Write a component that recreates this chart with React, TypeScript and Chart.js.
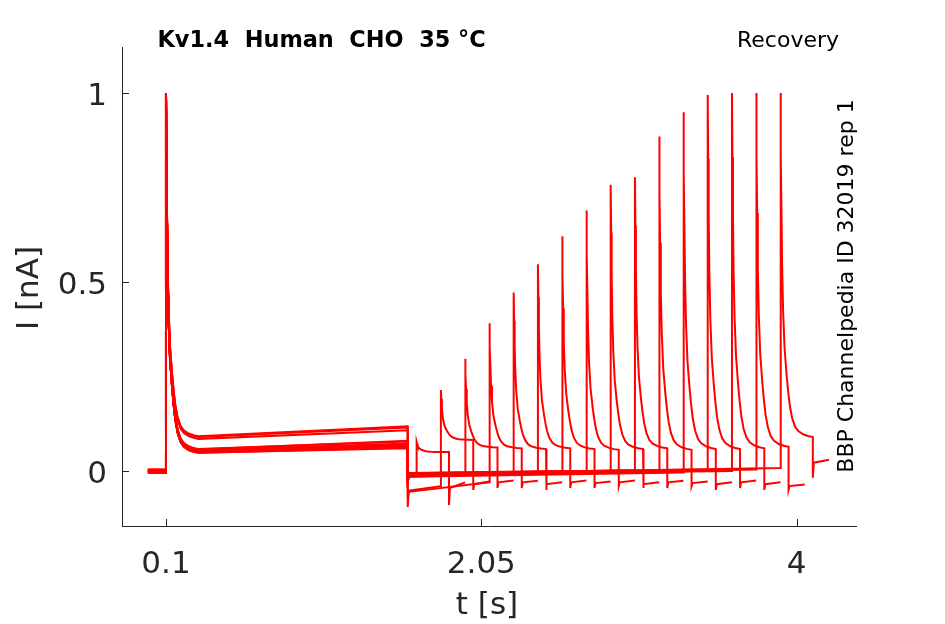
import { useEffect, useRef } from 'react';
import { Chart, registerables } from 'chart.js';

Chart.register(...registerables);

// axis ranges and ticks
const xMin = -0.172;
const xMax = 4.367;
const yMin = -0.1455;
const yMax = 1.1217;
const xTicks = [0.1, 2.05, 4];
const xTickLabels = ['0.1', '2.05', '4'];
const yTicks = [0, 0.5, 1];
const yTickLabels = ['0', '0.5', '1'];

// protocol timing (s)
const sweepStart = -0.012;
const firstPulseTime = 0.1;
const firstPeak = 1.0;
const stepDownTime = 1.595;
const pulseLength = 0.2;
const tailLength = 0.1;

// shared current decay after each pulse: time after onset and fraction of (peak - plateau) left
const decayDt = [0, 0.003, 0.006, 0.01, 0.016, 0.025, 0.038, 0.048, 0.058, 0.072, 0.09, 0.11, 0.14, 0.17, 0.2];
const decayFrac = [1, 0.82, 0.66, 0.5, 0.37, 0.26, 0.18, 0.13, 0.09, 0.055, 0.03, 0.017, 0.008, 0.003, 0];

// one value per sweep (16 sweeps)
const prePulseLevel = [0.0, -0.004, 0.003, 0.0, -0.003, 0.002, 0.0, -0.005, 0.004, 0.0, -0.002, 0.003, 0.0, -0.004, 0.002, 0.0];
const inactEarly = [0.055, 0.05, 0.09, 0.052, 0.058, 0.048, 0.055, 0.05, 0.085, 0.053, 0.057, 0.05, 0.055, 0.048, 0.052, 0.092];
const inactLate = [0.07, 0.065, 0.115, 0.068, 0.078, 0.062, 0.072, 0.066, 0.108, 0.07, 0.08, 0.064, 0.072, 0.06, 0.068, 0.118];
const stepSpike = [-0.03, -0.095, -0.02, -0.07, -0.025, -0.03, -0.02, -0.025, -0.03, -0.02, -0.025, -0.03, -0.02, -0.025, -0.03, -0.02];
const baseAfterStep = [-0.012, -0.052, -0.008, -0.055, -0.01, -0.015, -0.005, -0.01, -0.012, -0.008, -0.01, -0.015, -0.006, -0.01, -0.012, -0.008];
const baseBeforePulse = [-0.01, -0.04, -0.004, -0.03, -0.002, -0.004, 0.0, -0.002, 0.0, 0.002, 0.0, -0.004, 0.004, 0.0, 0.004, 0.008];
const recoveryStart = [1.65, 1.8, 1.95, 2.1, 2.25, 2.4, 2.55, 2.7, 2.85, 3.0, 3.15, 3.3, 3.45, 3.6, 3.75, 3.9];
const recoveryPeak = [0.077, 0.214, 0.297, 0.391, 0.472, 0.547, 0.621, 0.689, 0.757, 0.777, 0.885, 0.949, 0.995, 1.0, 1.0, 1.0];
const recoveryPlateau = [0.05, 0.082, 0.062, 0.06, 0.058, 0.06, 0.058, 0.056, 0.058, 0.06, 0.056, 0.058, 0.058, 0.06, 0.064, 0.09];
const pulseEndSpike = [-0.09, -0.05, -0.045, -0.045, -0.05, -0.045, -0.045, -0.04, -0.045, -0.045, -0.04, -0.05, -0.045, -0.05, -0.05, -0.018];
const tailStart = [-0.045, -0.035, -0.03, -0.03, -0.035, -0.03, -0.032, -0.03, -0.035, -0.03, -0.032, -0.035, -0.03, -0.035, -0.04, 0.022];
const tailEnd = [-0.03, -0.028, -0.025, -0.026, -0.03, -0.025, -0.028, -0.025, -0.03, -0.026, -0.028, -0.03, -0.025, -0.03, -0.036, 0.03];

const FONT = "'DejaVu Sans', sans-serif";
const AXIS_COLOR = '#262626';
const TRACE_COLOR = '#ff0000';

function buildSweep(i: number) {
  const pts: { x: number; y: number }[] = [];
  pts.push({ x: sweepStart, y: prePulseLevel[i] });
  pts.push({ x: firstPulseTime, y: prePulseLevel[i] });
  decayDt.forEach((dt, k) => {
    pts.push({ x: firstPulseTime + dt, y: inactEarly[i] + decayFrac[k] * (firstPeak - inactEarly[i]) });
  });
  pts.push({ x: stepDownTime, y: inactLate[i] });
  pts.push({ x: stepDownTime, y: stepSpike[i] });
  pts.push({ x: stepDownTime + 0.006, y: baseAfterStep[i] });
  const s = recoveryStart[i];
  pts.push({ x: s, y: baseBeforePulse[i] });
  decayDt.forEach((dt, k) => {
    pts.push({ x: s + dt, y: recoveryPlateau[i] + decayFrac[k] * (recoveryPeak[i] - recoveryPlateau[i]) });
  });
  pts.push({ x: s + pulseLength, y: pulseEndSpike[i] });
  pts.push({ x: s + pulseLength + 0.006, y: tailStart[i] });
  pts.push({ x: s + pulseLength + tailLength, y: tailEnd[i] });
  return pts;
}

// ticks, tick labels and all the text around the axes
const decorations = {
  id: 'decorations',
  afterDraw(chart: Chart) {
    const { ctx, chartArea } = chart;
    const xs = chart.scales.x;
    const ys = chart.scales.y;
    ctx.save();

    ctx.strokeStyle = AXIS_COLOR;
    ctx.lineWidth = 1;
    ctx.beginPath();
    xTicks.forEach((v) => {
      const px = Math.round(xs.getPixelForValue(v)) + 0.5;
      ctx.moveTo(px, chartArea.bottom);
      ctx.lineTo(px, chartArea.bottom - 7);
    });
    yTicks.forEach((v) => {
      const py = Math.round(ys.getPixelForValue(v)) + 0.5;
      ctx.moveTo(chartArea.left, py);
      ctx.lineTo(chartArea.left + 7, py);
    });
    ctx.stroke();

    ctx.fillStyle = AXIS_COLOR;
    ctx.font = `31px ${FONT}`;
    ctx.textBaseline = 'alphabetic';
    ctx.textAlign = 'center';
    xTicks.forEach((v, i) => ctx.fillText(xTickLabels[i], xs.getPixelForValue(v), 573));
    ctx.textAlign = 'right';
    yTicks.forEach((v, i) => ctx.fillText(yTickLabels[i], 107, ys.getPixelForValue(v) + 11.5));

    ctx.textAlign = 'center';
    ctx.fillText('t [s]', 487, 614);
    ctx.save();
    ctx.translate(37.5, 288);
    ctx.rotate(-Math.PI / 2);
    ctx.fillText('I [nA]', 0, 0);
    ctx.restore();

    ctx.fillStyle = '#000000';
    ctx.font = `bold 22.4px ${FONT}`;
    ctx.textAlign = 'left';
    ctx.fillText('Kv1.4  Human  CHO  35 °C', 157.5, 47);
    ctx.font = `22px ${FONT}`;
    ctx.textAlign = 'right';
    ctx.fillText('Recovery', 839, 47);

    ctx.font = `22px ${FONT}`;
    ctx.textAlign = 'center';
    ctx.translate(853, 286);
    ctx.rotate(-Math.PI / 2);
    ctx.fillText('BBP Channelpedia ID 32019 rep 1', 0, 0);

    ctx.restore();
  },
};

export default function App() {
  const canvasRef = useRef<HTMLCanvasElement | null>(null);
  const chartRef = useRef<Chart | null>(null);

  useEffect(() => {
    if (!canvasRef.current) return;
    if (chartRef.current) chartRef.current.destroy();

    const datasets = recoveryStart.map((_, i) => ({
      label: `sweep ${i + 1}`,
      data: buildSweep(i),
      borderColor: TRACE_COLOR,
      backgroundColor: TRACE_COLOR,
      borderWidth: 2,
      pointRadius: 0,
      tension: 0,
      fill: false,
    }));

    chartRef.current = new Chart(canvasRef.current, {
      type: 'line',
      data: { datasets },
      options: {
        responsive: false,
        animation: false,
        layout: { padding: { left: 0, top: 47, right: 89, bottom: 0 } },
        plugins: {
          legend: { display: false },
          title: { display: false },
          tooltip: { enabled: false },
        },
        scales: {
          x: {
            type: 'linear',
            min: xMin,
            max: xMax,
            grid: { display: false, drawTicks: false },
            border: { display: true, color: AXIS_COLOR, width: 1 },
            ticks: { display: false },
            afterFit: (scale: any) => {
              scale.height = 98;
            },
          },
          y: {
            type: 'linear',
            min: yMin,
            max: yMax,
            grid: { display: false, drawTicks: false },
            border: { display: true, color: AXIS_COLOR, width: 1 },
            ticks: { display: false },
            afterFit: (scale: any) => {
              scale.width = 122;
            },
          },
        },
      },
      plugins: [decorations],
    });

    return () => {
      if (chartRef.current) {
        chartRef.current.destroy();
        chartRef.current = null;
      }
    };
  }, []);

  return (
    <div style={{ position: 'absolute', left: 0, top: 0, width: 945, height: 624, background: '#ffffff' }}>
      <canvas ref={canvasRef} width={945} height={624} />
    </div>
  );
}
